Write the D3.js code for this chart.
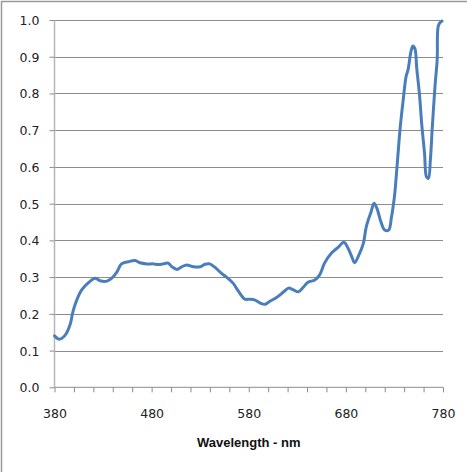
<!DOCTYPE html>
<html>
<head>
<meta charset="utf-8">
<script src="https://cdn.jsdelivr.net/npm/d3@7"></script>
<style>
  html, body { margin: 0; padding: 0; background: #fff; }
  svg { display: block; }
</style>
</head>
<body>
<svg id="chart" width="467" height="472"></svg>
<script>
// Wavelength (nm)
const wavelengths = [380, 385, 391, 396, 399, 403, 408, 415, 422, 427, 434, 439, 444, 449, 456, 463, 468, 475, 482, 487, 492, 497, 501, 506, 511, 516, 523, 530, 535, 540, 545, 552, 557, 564, 569, 576, 581, 586, 592, 597, 601, 609, 616, 621, 626, 631, 636, 641, 648, 653, 658, 665, 672, 678, 682, 686, 689, 693, 698, 701, 706, 709, 712, 716, 720, 724, 727, 730, 731, 734, 736, 739, 742, 744, 747, 749, 751, 753, 756, 758, 761, 763, 765, 767, 769, 772, 774, 775, 777, 779];
// Measured value
const values = [0.140, 0.131, 0.142, 0.170, 0.206, 0.238, 0.265, 0.285, 0.297, 0.290, 0.289, 0.297, 0.313, 0.336, 0.342, 0.345, 0.339, 0.336, 0.336, 0.334, 0.336, 0.338, 0.328, 0.321, 0.328, 0.333, 0.328, 0.328, 0.335, 0.336, 0.327, 0.310, 0.300, 0.283, 0.263, 0.240, 0.240, 0.238, 0.229, 0.226, 0.233, 0.245, 0.260, 0.270, 0.265, 0.260, 0.272, 0.286, 0.292, 0.306, 0.338, 0.365, 0.381, 0.395, 0.380, 0.356, 0.339, 0.358, 0.392, 0.437, 0.478, 0.501, 0.487, 0.451, 0.428, 0.428, 0.464, 0.519, 0.546, 0.646, 0.709, 0.782, 0.846, 0.864, 0.914, 0.929, 0.923, 0.868, 0.791, 0.719, 0.637, 0.573, 0.569, 0.619, 0.709, 0.828, 0.891, 0.982, 0.993, 0.997];
const xTicks = [380, 480, 580, 680, 780];
const xMinorTicks = [380, 400, 420, 440, 460, 480, 500, 520, 540, 560, 580, 600, 620, 640, 660, 680, 700, 720, 740, 760, 780];
const yTicks = [0.0, 0.1, 0.2, 0.3, 0.4, 0.5, 0.6, 0.7, 0.8, 0.9, 1.0];
const xTitle = "Wavelength - nm";

const svg = d3.select("#chart");
const mLeft = 54.5, mRight = 443, mTop = 20, mBottom = 387.3;

const x = d3.scaleLinear().domain([380, 780]).range([mLeft, mRight]);
const y = d3.scaleLinear().domain([0, 1]).range([mBottom, mTop]);

// chart frame (left/top edges visible)
svg.append("line").attr("x1", 1.5).attr("x2", 1.5).attr("y1", 1).attr("y2", 472).attr("stroke", "#9a9a9a").attr("stroke-width", 1.5);
svg.append("line").attr("x1", 1).attr("x2", 467).attr("y1", 1.5).attr("y2", 1.5).attr("stroke", "#9a9a9a").attr("stroke-width", 1.5);

// gridlines
svg.append("g").selectAll("line").data(yTicks.filter(d => d > 0)).join("line")
  .attr("x1", mLeft).attr("x2", mRight)
  .attr("y1", d => Math.round(y(d)) + 0.5).attr("y2", d => Math.round(y(d)) + 0.5)
  .attr("stroke", "#8c8c8c").attr("stroke-width", 1);

// y axis
const yAxis = d3.axisLeft(y).tickValues(yTicks).tickFormat(d3.format(".1f")).tickSize(5).tickPadding(10);
const gy = svg.append("g").attr("transform", `translate(${mLeft},0)`).call(yAxis);
gy.select(".domain").attr("stroke", "#b8b8b8").attr("stroke-width", 1.5).attr("d", `M0,${mTop}V${mBottom}`);
gy.selectAll(".tick line").attr("stroke", "#8c8c8c");
gy.selectAll(".tick text").attr("fill", "#222").style("font-family", "DejaVu Sans, Verdana, sans-serif").style("font-size", "12.5px").attr("dy", "0.36em");

// x axis: minor ticks every 20, labels every 100
const xAxisMinor = d3.axisBottom(x).tickValues(xMinorTicks).tickFormat("").tickSize(5);
const gxm = svg.append("g").attr("transform", `translate(0,${mBottom})`).call(xAxisMinor);
gxm.select(".domain").attr("stroke", "#8c8c8c").attr("d", `M${mLeft},0H${mRight}`);
gxm.selectAll(".tick line").attr("stroke", "#8c8c8c");

const xAxis = d3.axisBottom(x).tickValues(xTicks).tickFormat(d3.format("d")).tickSize(0).tickPadding(22);
const gx = svg.append("g").attr("transform", `translate(0,${mBottom})`).call(xAxis);
gx.select(".domain").remove();
gx.selectAll(".tick text").attr("fill", "#222").style("font-family", "DejaVu Sans, Verdana, sans-serif").style("font-size", "12.5px");

// axis title
svg.append("text").attr("x", (mLeft + mRight) / 2).attr("y", 447).attr("text-anchor", "middle")
  .style("font-family", "Liberation Sans, Arial, sans-serif").style("font-weight", "bold").style("font-size", "13px")
  .attr("fill", "#111").text(xTitle);

// data line
const data = wavelengths.map((w, i) => ({ w, v: values[i] }));
const line = d3.line().x(d => x(d.w)).y(d => y(d.v)).curve(d3.curveCatmullRom.alpha(0.5));
svg.append("path").datum(data).attr("d", line)
  .attr("fill", "none").attr("stroke", "#4a7ebb").attr("stroke-width", 3)
  .attr("stroke-linejoin", "round").attr("stroke-linecap", "round");
</script>
</body>
</html>
